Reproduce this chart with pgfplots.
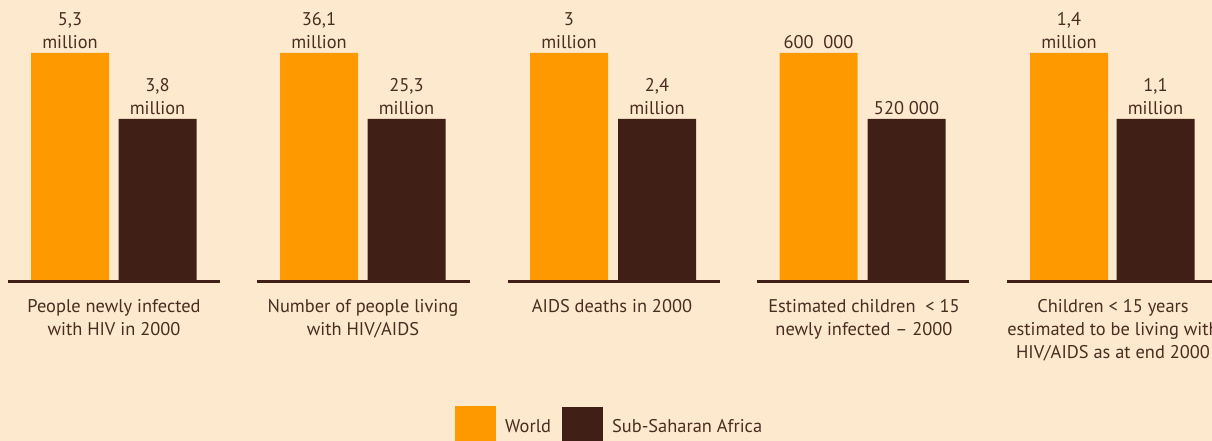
\documentclass[border=0pt]{standalone}
\usepackage{fontspec}
\setmainfont{PT Sans}
\usepackage{pgfplots}
\pgfplotsset{compat=1.18}

\definecolor{bgc}{HTML}{FDE9CE}
\definecolor{worldc}{HTML}{FF9900}
\definecolor{ssac}{HTML}{3F1F16}
\definecolor{txtc}{HTML}{4B2C22}
\newcommand\lbl{\fontsize{18.4}{23}\selectfont}

\begin{document}
\begin{tikzpicture}
\begin{axis}[
	name=ax,
	scale only axis,
	width=1212pt, height=441pt,
	xmin=0, xmax=1212, ymin=-159, ymax=282,
	axis lines=none,
	clip=false,
	axis background/.style={fill=bgc},
	nodes near coords style={align=center, font=\lbl, text=txtc, anchor=south, inner sep=1pt, yshift=3pt},
	]
	% bar heights as drawn (equal in every group), real values as labels
	\addplot[ybar, bar shift=0pt, bar width=78, fill=worldc, draw=none,
		nodes near coords, point meta=explicit symbolic] coordinates {
		(70,229)    [{5,3\\million}]
		(319,229)   [{36,1\\million}]
		(569,229)   [{3\\million}]
		(818.5,229) [{600~~000}]
		(1069,229)  [{1,4\\million}]
	};
	\addplot[ybar, bar shift=0pt, bar width=78, fill=ssac, draw=none,
		nodes near coords, point meta=explicit symbolic] coordinates {
		(157.5,163)  [{3,8\\million}]
		(406.5,163)  [{25,3\\million}]
		(657,163)    [{2,4\\million}]
		(906.5,163)  [{520 000}]
		(1155.5,163) [{1,1\\million}]
	};
	% group baselines
	\addplot[draw=ssac, line width=3pt, no marks, unbounded coords=jump] coordinates {
		(8,0) (220,0) (nan,nan)
		(257,0) (470,0) (nan,nan)
		(508,0) (720,0) (nan,nan)
		(757,0) (969,0) (nan,nan)
		(1007,0) (1230,0)
	};
	% category labels (the last one runs off the right edge, as in the source)
	\begin{scope}[every node/.style={anchor=north, align=center, font=\lbl, text=txtc, inner sep=0pt}]
	\node at (axis cs:114,-17) {People newly infected\\with HIV in 2000};
	\node at (axis cs:363,-17) {Number of people living\\with HIV/AIDS};
	\node at (axis cs:612,-17) {AIDS deaths in 2000};
	\node at (axis cs:864,-17) {Estimated children~~< 15\\newly infected -- 2000};
	\node at (axis cs:1113,-17) {Children < 15 years\\estimated to be living with\\HIV/AIDS as at end 2000};
	\end{scope}
	% legend
	\fill[worldc] (axis cs:455,-124) rectangle (axis cs:496,-165);
	\node[anchor=west, font=\lbl, text=txtc, inner sep=0pt] at (axis cs:505,-144) {World};
	\fill[ssac] (axis cs:562,-125) rectangle (axis cs:603,-165);
	\node[anchor=west, font=\lbl, text=txtc, inner sep=0pt] at (axis cs:612,-144) {Sub-Saharan Africa};
\end{axis}
\pgfresetboundingbox
\useasboundingbox (ax.south west) rectangle (ax.north east);
\end{tikzpicture}
\end{document}
